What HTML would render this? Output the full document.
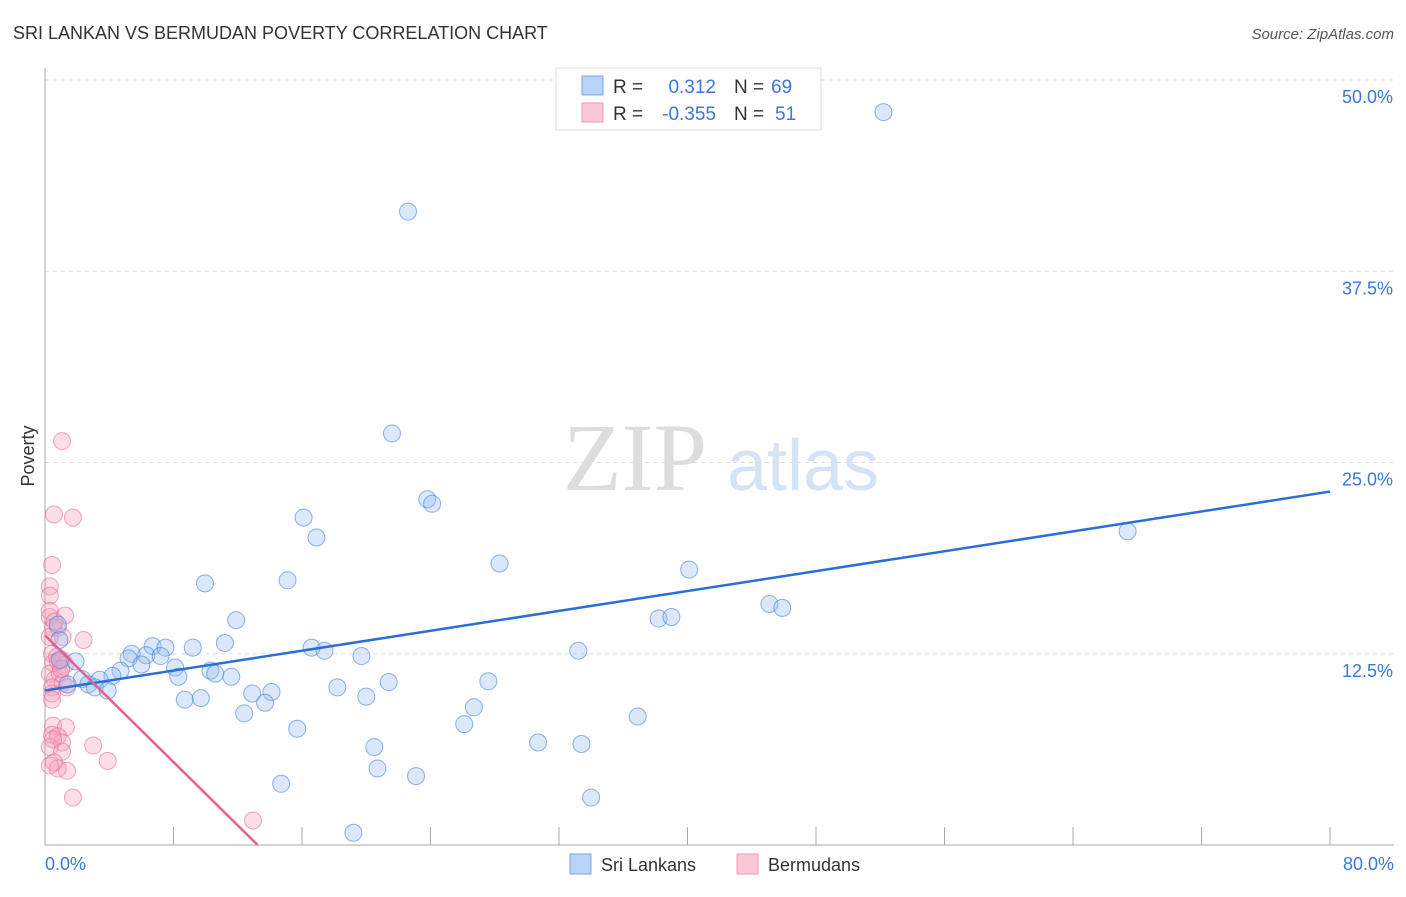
<!DOCTYPE html>
<html><head><meta charset="utf-8"><style>
body{margin:0;background:#fff;font-family:"Liberation Sans",sans-serif;}
</style></head><body>
<svg width="1406" height="892" xmlns="http://www.w3.org/2000/svg">
<text x="13" y="39" font-size="18" fill="#333">SRI LANKAN VS BERMUDAN POVERTY CORRELATION CHART</text>
<text x="1394" y="39" font-size="15" fill="#555" font-style="italic" text-anchor="end">Source: ZipAtlas.com</text>
<g>
<text x="635" y="490" font-size="96" fill="#ddd" font-family="Liberation Serif,serif" text-anchor="middle">ZIP</text>
<text x="803" y="490" font-size="72" fill="#d5e3f5" text-anchor="middle">atlas</text>
</g>
<g id="grid"></g>
<g id="axes"></g>
<g id="marks"></g>
<text transform="translate(34,456) rotate(-90)" font-size="18" fill="#333" text-anchor="middle">Poverty</text>
<text x="45" y="870" font-size="18" fill="#3b78d8">0.0%</text>
<text x="1394" y="870" font-size="18" fill="#3b78d8" text-anchor="end">80.0%</text>
<g>
<rect x="556" y="68" width="265" height="62" fill="#fff" stroke="#ddd"/>
<rect x="582" y="76" width="21" height="19" fill="#b8d3f5" stroke="#7aa6e6"/>
<rect x="582" y="103" width="21" height="19" fill="#fac8d6" stroke="#ee9ab3"/>
<text x="613" y="93" font-size="19" fill="#333">R =</text>
<text x="716" y="93" font-size="19" fill="#3b78d8" text-anchor="end">0.312</text>
<text x="734" y="93" font-size="19" fill="#333">N =</text>
<text x="771" y="93" font-size="19" fill="#3b78d8">69</text>
<text x="613" y="120" font-size="19" fill="#333">R =</text>
<text x="716" y="120" font-size="19" fill="#3b78d8" text-anchor="end">-0.355</text>
<text x="734" y="120" font-size="19" fill="#333">N =</text>
<text x="775" y="120" font-size="19" fill="#3b78d8">51</text>
</g>
<g>
<rect x="570" y="854" width="21" height="20" fill="#b8d3f5" stroke="#7aa6e6"/>
<text x="601" y="871" font-size="18" fill="#333">Sri Lankans</text>
<rect x="737" y="854" width="21" height="20" fill="#fac8d6" stroke="#ee9ab3"/>
<text x="768" y="871" font-size="18" fill="#333">Bermudans</text>
</g>
</svg>
<script>
const yTicks=[12.5,25,37.5,50];
const yTickLabels=["12.5%","25.0%","37.5%","50.0%"];
const blueX=[52.2,22.6,21.6,23.8,24.1,16.1,16.9,67.4,28.3,40.1,9.96,15.1,45.1,45.9,11.9,38.2,39.0,11.2,16.6,17.4,33.2,19.7,9.2,6.7,7.5,5.4,6.3,7.2,5.2,8.1,6.0,4.7,1.9,0.93,10.3,10.6,11.6,8.3,4.2,3.4,2.3,2.7,3.1,3.9,1.4,21.4,27.6,18.2,12.9,14.1,20.0,8.7,9.7,13.7,26.7,12.4,36.9,26.1,15.7,30.7,33.4,20.5,20.7,23.1,14.7,34.0,19.2,0.9,0.8];
const blueY=[47.9,41.4,26.9,22.6,22.3,21.4,20.1,20.5,18.4,18.0,17.1,17.3,15.75,15.5,14.7,14.8,14.9,13.2,12.9,12.7,12.7,12.35,12.9,13.0,12.9,12.5,12.4,12.35,12.2,11.6,11.8,11.4,12.0,12.1,11.4,11.2,11.0,11.0,11.05,10.8,10.85,10.5,10.3,10.1,10.5,10.65,10.7,10.3,9.9,10.0,9.7,9.5,9.6,9.3,9.0,8.6,8.4,7.9,7.6,6.7,6.6,6.4,5.0,4.5,4.0,3.1,0.8,13.4,14.4];
const pinkX=[1.06,0.56,1.74,0.44,0.3,0.3,1.25,0.3,0.5,0.8,1.1,2.4,0.3,0.44,0.75,1.06,0.5,1.25,0.3,0.93,0.6,1.1,0.44,1.37,0.44,0.44,0.5,1.3,0.44,0.8,1.06,3.0,0.3,1.06,0.56,3.9,0.8,1.37,1.74,12.95,0.3,0.6,0.8,1.0,0.5,0.3];
const pinkY=[26.4,21.6,21.4,18.3,16.9,16.3,15.0,14.9,14.2,14.2,13.6,13.4,13.6,12.5,12.3,12.1,11.9,11.8,11.2,11.2,10.8,10.6,10.3,10.3,9.9,9.5,7.8,7.7,7.2,7.1,6.7,6.5,6.4,6.1,5.4,5.5,5.0,4.85,3.1,1.6,15.3,14.6,12.0,11.5,6.9,5.2];
const blueTrend=[10.1,23.1];
const pinkTrend=[13.7,-1.035];
const X0=45,X1=1330,Y0=845,Y50=80;
const sx=v=>X0+(X1-X0)*v/80;
const sy=v=>Y0-(Y0-Y50)*v/50;
const NS="http://www.w3.org/2000/svg";
function mk(t,a,p){const e=document.createElementNS(NS,t);for(const k in a)e.setAttribute(k,a[k]);p.appendChild(e);return e;}
const grid=document.getElementById('grid'),axes=document.getElementById('axes'),marks=document.getElementById('marks');
yTicks.forEach((v,i)=>{
 const l=mk('line',{x1:X0,x2:1394,y1:sy(v),y2:sy(v),stroke:'#ddd','stroke-dasharray':'4,4'},grid);
 
 
 const t=mk('text',{x:1393,y:sy(v)+23,'font-size':18,fill:'#3b78d8','text-anchor':'end'},axes);
 t.textContent=yTickLabels[i];
 
 
});
const ax=mk('line',{x1:X0,x2:X0,y1:68,y2:Y0,stroke:'#aaa'},axes);


const bx=mk('line',{x1:X0,x2:1394,y1:Y0,y2:Y0,stroke:'#aaa'},axes);


for(let v=8;v<=80;v+=8){
 const t=mk('line',{x1:sx(v),x2:sx(v),y1:Y0,y2:Y0-18,stroke:'#aaa'},axes);
 
 
}
pinkX.forEach((x,i)=>{
 const c=mk('circle',{cx:sx(x),cy:sy(pinkY[i]),r:8.5,fill:'rgba(246,160,185,0.35)',stroke:'rgba(232,110,150,0.6)','stroke-width':1},marks);
 
 
});
blueX.forEach((x,i)=>{
 const c=mk('circle',{cx:sx(x),cy:sy(blueY[i]),r:8.5,fill:'rgba(150,190,240,0.35)',stroke:'rgba(70,130,220,0.6)','stroke-width':1},marks);
 
 
});
const bl=mk('line',{x1:sx(0),y1:sy(blueTrend[0]),x2:sx(80),y2:sy(blueTrend[1]),stroke:'#2a6fd6','stroke-width':2.5},marks);


const xe=-pinkTrend[0]/pinkTrend[1];
const pl=mk('line',{x1:sx(0),y1:sy(pinkTrend[0]),x2:sx(xe),y2:sy(0),stroke:'#e8608a','stroke-width':2.5},marks);


</script>
</body></html>
